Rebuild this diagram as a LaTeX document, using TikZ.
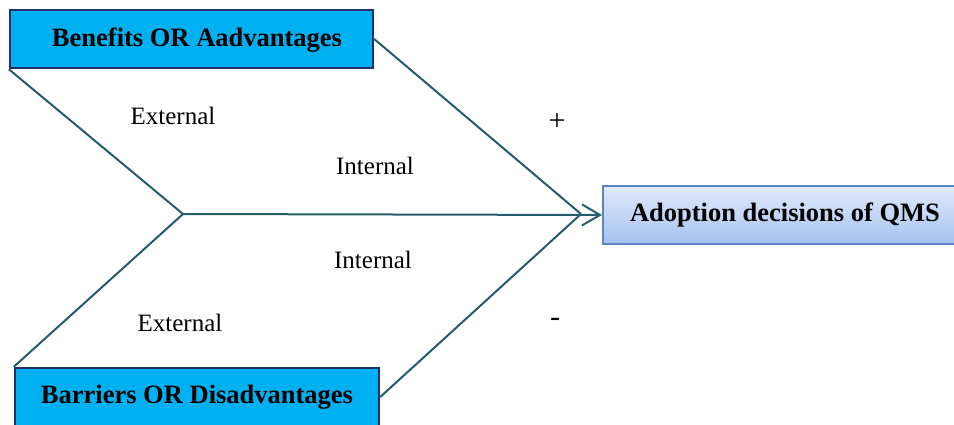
\documentclass[tikz,border=0pt]{standalone}
\usepackage{fontspec}
\setmainfont{Liberation Serif}
\usetikzlibrary{arrows.meta}
\definecolor{linkteal}{HTML}{245D6A}
\definecolor{factorfill}{HTML}{00B0F0}
\definecolor{factorline}{HTML}{1F2F6E}
\definecolor{goaltop}{HTML}{E0EAFA}
\definecolor{goalbot}{HTML}{A6C2EF}
\definecolor{goalline}{HTML}{5B86C5}
\tikzset{
  factorbox/.style={draw=factorline, line width=2.4pt, fill=factorfill,
    minimum width=363pt, minimum height=58pt, inner sep=0pt},
  goalbox/.style={draw=goalline, line width=2pt, top color=goaltop, bottom color=goalbot,
    minimum width=360pt, minimum height=58pt, inner sep=0pt},
  boxtext/.style={font=\fontsize{26.5}{30}\selectfont\bfseries, inner sep=0pt},
  tag/.style={font=\fontsize{25}{30}\selectfont, inner sep=0pt},
  sign/.style={font=\fontsize{30}{34}\selectfont, inner sep=0pt},
  link/.style={draw=linkteal, line width=2pt},
}
\begin{document}
\begin{tikzpicture}[x=1pt, y=-1pt]
  \useasboundingbox[clip] (0,0) rectangle (954,425);

  % factor boxes and the outcome box
  \node[factorbox] (benefit) at (191.5,39) {};
  \node[boxtext] (benefittxt) at (197,40) {Benefits OR Aadvantages};
  \node[factorbox, minimum width=364pt] (barrier) at (197,397) {};
  \node[boxtext] (barriertxt) at (197,397) {Barriers OR Disadvantages};
  \node[goalbox] (goal) at (783,215) {};
  \node[boxtext] (goaltxt) at (785,215) {Adoption decisions of QMS};

  % meeting points of the connectors
  \coordinate (fork) at (183,214);
  \coordinate (meet) at (581,214);

  % external branches into the fork
  \draw[link] (benefit.south west) -- (fork);
  \draw[link] (barrier.north west) -- (fork);
  % internal branches into the meeting point
  \draw[link] (benefit.east) -- (meet);
  \draw[link] (barrier.east) -- (meet);
  % combined effect on the decision
  \draw[link, -{Straight Barb[length=18pt, width=21pt, line width=2pt]}]
    (fork) -- (goal.west);

  % branch labels
  \node[tag] (ext1) at (173,116) {External};
  \node[tag] (int1) at (375,166) {Internal};
  \node[sign] (plus) at (557,122) {+};
  \node[tag] (int2) at (373,260) {Internal};
  \node[tag] (ext2) at (180,323) {External};
  \node[sign] (minus) at (555,322) {-};
\end{tikzpicture}
\end{document}
